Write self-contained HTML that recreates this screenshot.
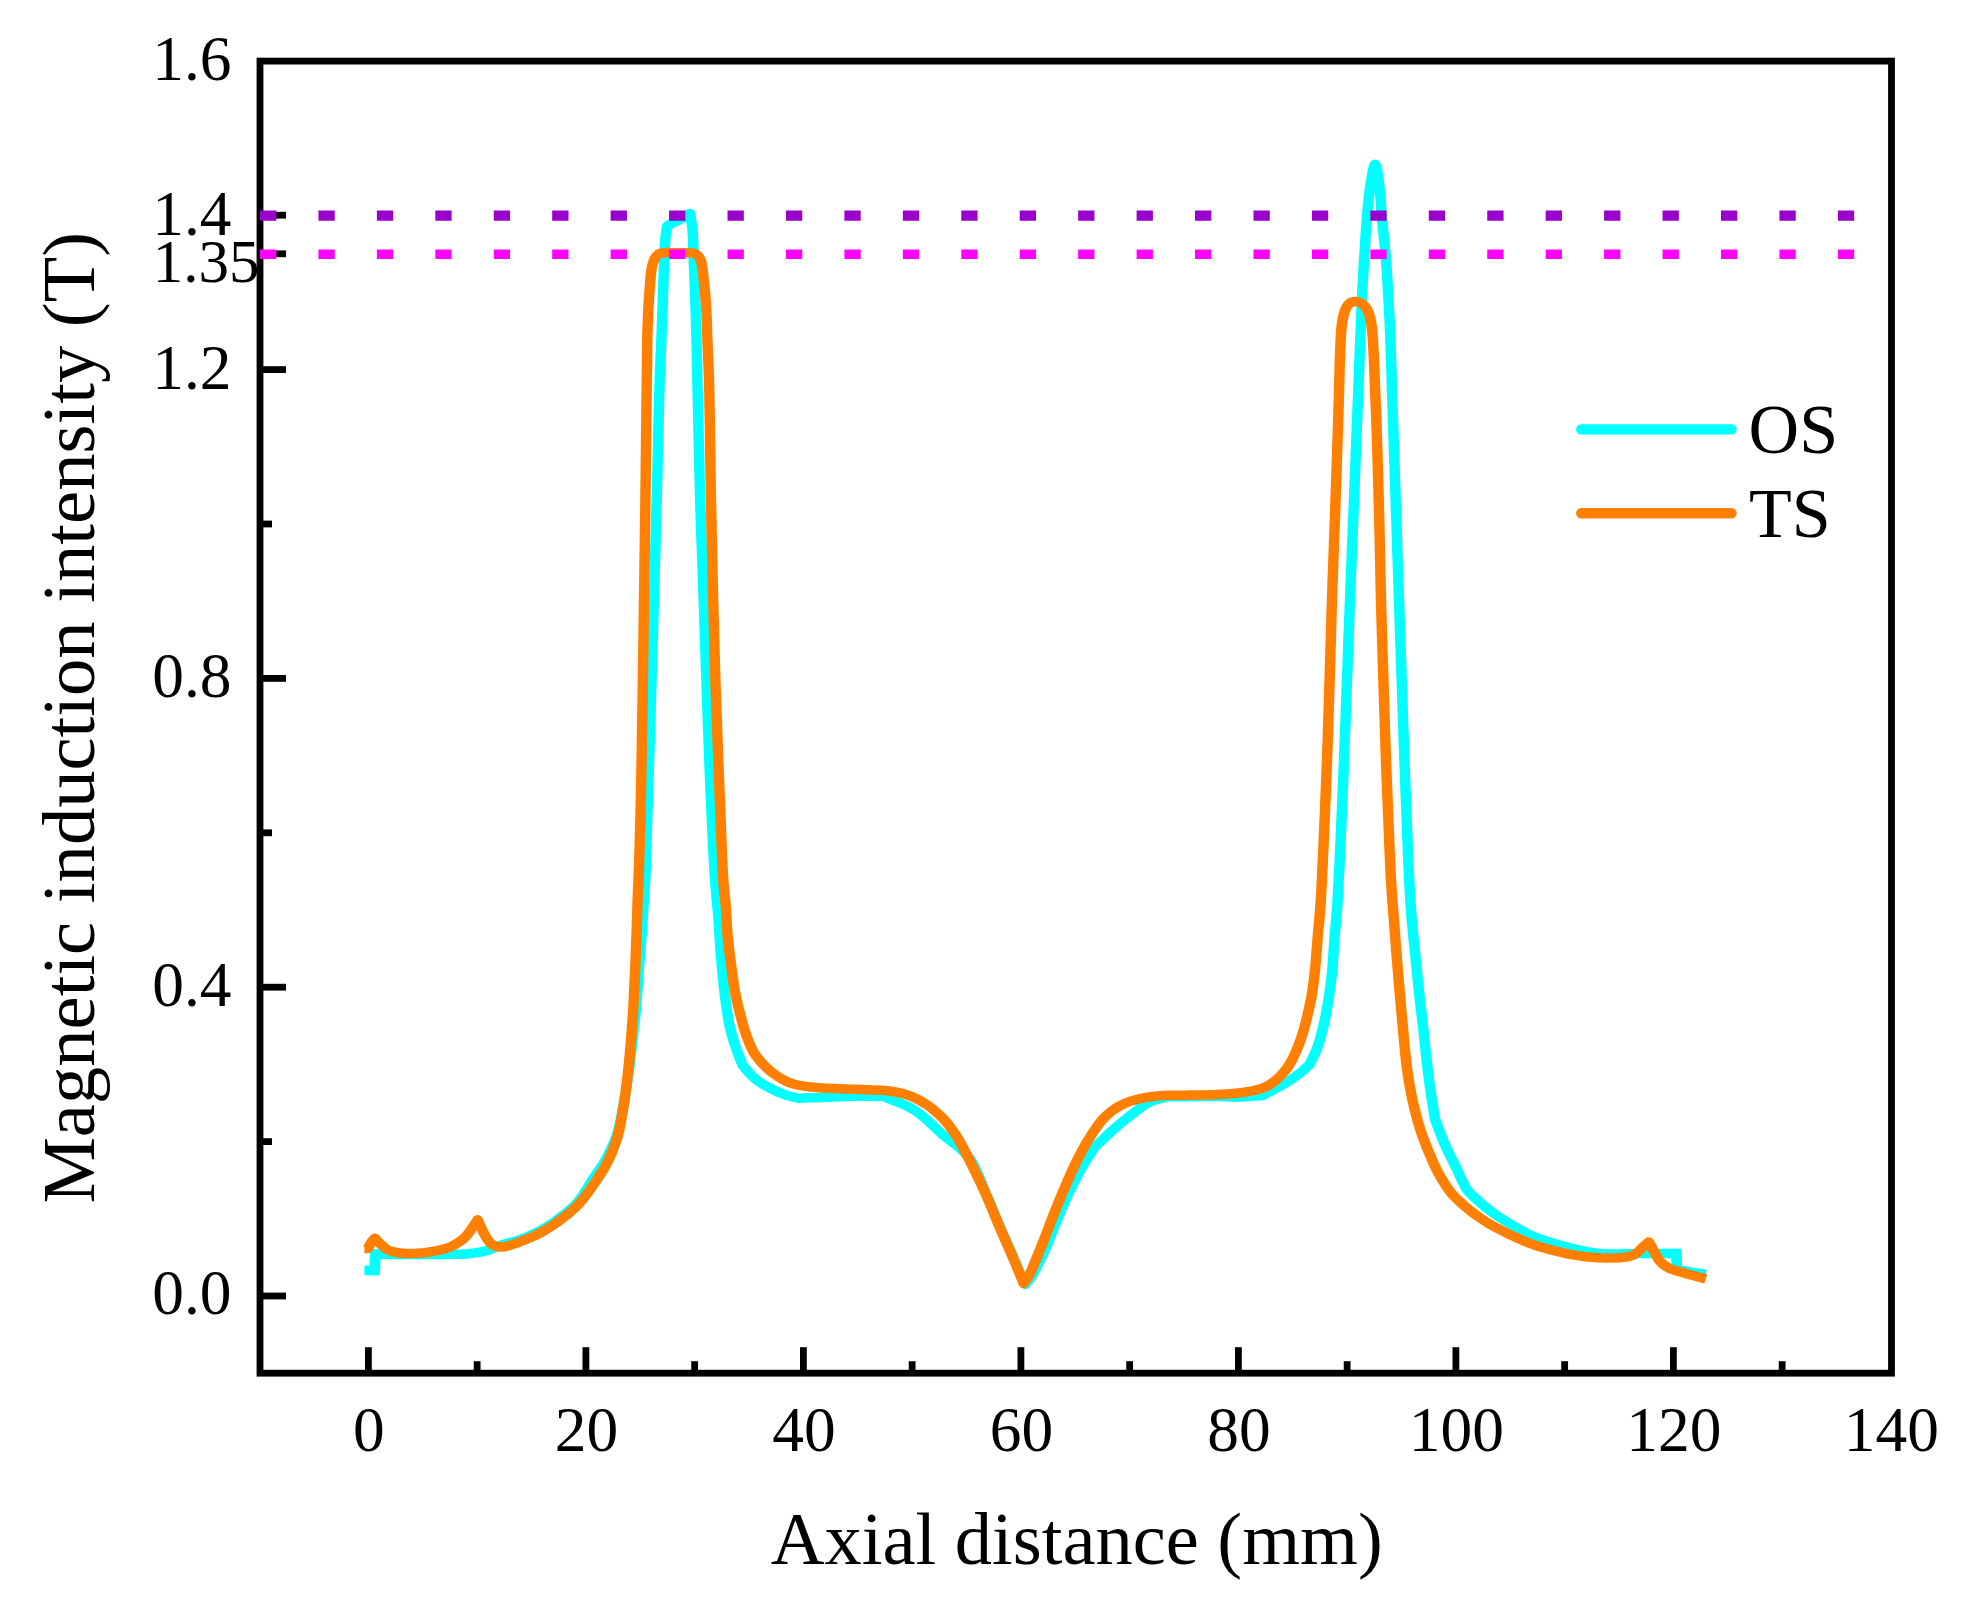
<!DOCTYPE html>
<html lang="en"><head><meta charset="utf-8"><title>Magnetic induction intensity vs axial distance</title>
<style>html,body{margin:0;padding:0;background:#fff}svg{display:block}text{font-family:"Liberation Serif","Times New Roman",serif;fill:#000}</style></head><body>
<svg width="1968" height="1600" viewBox="0 0 1968 1600">
<rect width="1968" height="1600" fill="#fff"/>
<g stroke="#000" stroke-width="6.8" fill="none" stroke-linecap="butt">
<rect x="260.00" y="61.10" width="1631.50" height="1312.10"/>
<line x1="368.40" y1="1373.20" x2="368.40" y2="1347.20"/>
<line x1="477.15" y1="1373.20" x2="477.15" y2="1361.20"/>
<line x1="585.90" y1="1373.20" x2="585.90" y2="1347.20"/>
<line x1="694.65" y1="1373.20" x2="694.65" y2="1361.20"/>
<line x1="803.40" y1="1373.20" x2="803.40" y2="1347.20"/>
<line x1="912.15" y1="1373.20" x2="912.15" y2="1361.20"/>
<line x1="1020.90" y1="1373.20" x2="1020.90" y2="1347.20"/>
<line x1="1129.65" y1="1373.20" x2="1129.65" y2="1361.20"/>
<line x1="1238.40" y1="1373.20" x2="1238.40" y2="1347.20"/>
<line x1="1347.15" y1="1373.20" x2="1347.15" y2="1361.20"/>
<line x1="1455.90" y1="1373.20" x2="1455.90" y2="1347.20"/>
<line x1="1564.65" y1="1373.20" x2="1564.65" y2="1361.20"/>
<line x1="1673.40" y1="1373.20" x2="1673.40" y2="1347.20"/>
<line x1="1782.15" y1="1373.20" x2="1782.15" y2="1361.20"/>
<line x1="260.00" y1="1296.00" x2="286.00" y2="1296.00"/>
<line x1="260.00" y1="1141.60" x2="272.00" y2="1141.60"/>
<line x1="260.00" y1="987.20" x2="286.00" y2="987.20"/>
<line x1="260.00" y1="832.80" x2="272.00" y2="832.80"/>
<line x1="260.00" y1="678.40" x2="286.00" y2="678.40"/>
<line x1="260.00" y1="524.00" x2="272.00" y2="524.00"/>
<line x1="260.00" y1="369.60" x2="286.00" y2="369.60"/>
<line x1="260.00" y1="215.20" x2="286.00" y2="215.20"/>
<line x1="260.00" y1="253.80" x2="286.00" y2="253.80"/>
</g>
<g transform="scale(1.100 1)" fill="none" stroke-width="9.50" stroke-linejoin="round" stroke-linecap="butt">
<path d="M331.27 1270.60 L340.73 1270.60 L341.09 1254.00 L344.03 1254.09 L346.90 1254.18 L349.77 1254.28 L352.71 1254.37 L355.80 1254.44 L359.09 1254.50 L361.64 1254.53 L364.30 1254.56 L367.06 1254.58 L369.91 1254.59 L372.83 1254.60 L375.80 1254.60 L378.80 1254.60 L381.84 1254.59 L384.87 1254.57 L387.90 1254.54 L390.91 1254.50 L393.67 1254.47 L396.53 1254.45 L399.45 1254.43 L402.43 1254.41 L405.42 1254.39 L408.42 1254.35 L411.39 1254.31 L414.30 1254.25 L417.15 1254.16 L419.89 1254.05 L422.51 1253.90 L424.98 1253.72 L427.27 1253.50 L430.83 1253.06 L434.05 1252.56 L437.04 1251.98 L439.90 1251.30 L442.73 1250.50 L445.74 1249.41 L448.54 1248.15 L451.39 1246.82 L454.55 1245.50 L457.23 1244.55 L460.14 1243.61 L463.19 1242.66 L466.32 1241.69 L469.44 1240.69 L472.48 1239.63 L475.36 1238.50 L478.28 1237.23 L481.11 1235.92 L483.87 1234.56 L486.59 1233.13 L489.29 1231.61 L492.00 1230.00 L494.42 1228.48 L496.83 1226.90 L499.22 1225.24 L501.60 1223.53 L503.96 1221.75 L506.31 1219.90 L508.64 1218.00 L510.78 1216.20 L512.94 1214.37 L515.10 1212.49 L517.23 1210.55 L519.33 1208.55 L521.38 1206.46 L523.37 1204.28 L525.27 1202.00 L526.99 1199.69 L528.65 1197.23 L530.24 1194.66 L531.79 1192.01 L533.30 1189.32 L534.77 1186.63 L536.22 1183.99 L537.66 1181.43 L539.09 1179.00 L540.95 1176.01 L542.79 1173.12 L544.59 1170.31 L546.34 1167.54 L548.00 1164.78 L549.55 1162.00 L551.09 1158.97 L552.53 1155.96 L553.87 1152.97 L555.14 1149.98 L556.36 1147.00 L557.47 1144.27 L558.51 1141.64 L559.50 1138.97 L560.44 1136.14 L561.36 1133.00 L562.05 1130.33 L562.71 1127.46 L563.36 1124.42 L563.98 1121.26 L564.58 1118.01 L565.16 1114.72 L565.73 1111.43 L566.28 1108.17 L566.82 1105.00 L567.34 1101.89 L567.84 1098.77 L568.31 1095.65 L568.78 1092.53 L569.23 1089.41 L569.66 1086.28 L570.09 1083.15 L570.50 1080.03 L570.91 1076.90 L571.30 1073.80 L571.67 1070.73 L572.03 1067.67 L572.38 1064.62 L572.72 1061.54 L573.05 1058.44 L573.39 1055.28 L573.74 1052.06 L574.09 1048.75 L574.41 1045.81 L574.73 1042.81 L575.06 1039.76 L575.40 1036.65 L575.73 1033.51 L576.07 1030.34 L576.40 1027.15 L576.72 1023.95 L577.04 1020.76 L577.34 1017.57 L577.63 1014.39 L577.91 1011.25 L578.16 1008.13 L578.40 1005.00 L578.63 1001.88 L578.84 998.75 L579.05 995.63 L579.25 992.50 L579.45 989.38 L579.64 986.25 L579.84 983.13 L580.03 980.00 L580.24 976.87 L580.45 973.75 L580.68 970.62 L580.90 967.50 L581.14 964.37 L581.37 961.25 L581.61 958.13 L581.84 955.00 L582.07 951.88 L582.31 948.75 L582.53 945.63 L582.76 942.50 L582.97 939.38 L583.18 936.25 L583.38 933.08 L583.58 929.85 L583.78 926.57 L583.97 923.27 L584.16 919.97 L584.34 916.70 L584.52 913.46 L584.70 910.30 L584.87 907.22 L585.04 904.26 L585.20 901.42 L585.36 898.75 L585.58 895.38 L585.78 892.42 L585.98 889.64 L586.17 886.80 L586.36 883.67 L586.55 880.00 L586.64 877.77 L586.74 875.38 L586.84 872.84 L586.93 870.17 L587.03 867.39 L587.12 864.50 L587.21 861.51 L587.30 858.45 L587.39 855.31 L587.48 852.12 L587.57 848.89 L587.66 845.63 L587.75 842.35 L587.84 839.07 L587.92 835.80 L588.01 832.54 L588.10 829.32 L588.19 826.15 L588.28 823.04 L588.36 820.00 L588.45 817.01 L588.54 814.04 L588.63 811.08 L588.71 808.14 L588.80 805.20 L588.88 802.27 L588.97 799.34 L589.05 796.41 L589.14 793.48 L589.22 790.54 L589.31 787.59 L589.39 784.62 L589.48 781.64 L589.56 778.63 L589.65 775.61 L589.74 772.55 L589.82 769.47 L589.91 766.35 L590.00 763.19 L590.09 760.00 L590.17 757.13 L590.25 754.22 L590.33 751.29 L590.42 748.33 L590.50 745.34 L590.58 742.32 L590.66 739.29 L590.75 736.23 L590.83 733.16 L590.92 730.07 L591.00 726.96 L591.08 723.85 L591.17 720.72 L591.25 717.58 L591.34 714.44 L591.42 711.29 L591.51 708.14 L591.59 704.99 L591.68 701.84 L591.77 698.70 L591.85 695.56 L591.94 692.42 L592.02 689.30 L592.10 686.19 L592.19 683.09 L592.27 680.00 L592.36 676.93 L592.44 673.87 L592.52 670.82 L592.61 667.78 L592.69 664.75 L592.77 661.72 L592.86 658.70 L592.94 655.68 L593.02 652.66 L593.11 649.64 L593.19 646.61 L593.27 643.59 L593.36 640.56 L593.44 637.52 L593.53 634.47 L593.61 631.42 L593.69 628.35 L593.78 625.27 L593.86 622.18 L593.94 619.07 L594.03 615.94 L594.11 612.80 L594.20 609.63 L594.28 606.45 L594.37 603.24 L594.45 600.00 L594.53 597.13 L594.61 594.25 L594.68 591.36 L594.76 588.46 L594.83 585.55 L594.91 582.62 L594.99 579.68 L595.07 576.74 L595.14 573.78 L595.22 570.81 L595.30 567.83 L595.37 564.84 L595.45 561.84 L595.53 558.83 L595.61 555.81 L595.68 552.78 L595.76 549.75 L595.84 546.70 L595.92 543.64 L596.00 540.58 L596.07 537.50 L596.15 534.42 L596.23 531.33 L596.31 528.23 L596.38 525.12 L596.46 522.01 L596.54 518.89 L596.62 515.76 L596.69 512.62 L596.77 509.48 L596.85 506.32 L596.92 503.17 L597.00 500.00 L597.07 497.11 L597.14 494.17 L597.21 491.17 L597.28 488.14 L597.35 485.06 L597.42 481.94 L597.48 478.79 L597.55 475.61 L597.62 472.41 L597.69 469.18 L597.76 465.93 L597.83 462.66 L597.90 459.39 L597.97 456.11 L598.04 452.82 L598.11 449.53 L598.18 446.24 L598.25 442.96 L598.32 439.69 L598.38 436.44 L598.45 433.20 L598.52 429.99 L598.59 426.80 L598.66 423.64 L598.73 420.51 L598.79 417.41 L598.86 414.36 L598.93 411.35 L599.00 408.39 L599.07 405.48 L599.13 402.63 L599.20 399.83 L599.27 397.09 L599.33 394.43 L599.40 391.83 L599.47 389.30 L599.53 386.85 L599.60 384.48 L599.66 382.20 L599.73 380.00 L599.85 376.15 L599.97 372.58 L600.08 369.26 L600.20 366.13 L600.32 363.14 L600.43 360.26 L600.55 357.43 L600.67 354.61 L600.78 351.76 L600.90 348.82 L601.02 345.75 L601.14 342.50 L601.24 339.56 L601.35 336.54 L601.45 333.47 L601.56 330.34 L601.67 327.16 L601.78 323.96 L601.89 320.74 L601.99 317.50 L602.10 314.26 L602.21 311.04 L602.32 307.84 L602.42 304.66 L602.52 301.53 L602.62 298.46 L602.72 295.44 L602.82 292.50 L602.92 289.15 L603.03 285.79 L603.12 282.44 L603.22 279.12 L603.31 275.84 L603.40 272.61 L603.49 269.44 L603.58 266.35 L603.68 263.34 L603.78 260.44 L603.89 257.66 L604.00 255.00 L604.16 251.44 L604.31 248.06 L604.47 244.87 L604.65 241.84 L604.85 238.97 L605.09 236.25 L605.54 232.60 L606.04 229.30 L606.55 226.00 L608.90 224.56 L611.36 223.10 L614.75 221.33 L618.18 219.50 L621.03 217.73 L623.64 216.00 L625.50 214.73 L627.27 213.50 L627.75 216.74 L628.25 219.93 L628.74 223.15 L629.18 226.47 L629.55 230.00 L629.76 232.84 L629.91 235.76 L630.03 238.77 L630.12 241.85 L630.19 245.02 L630.26 248.27 L630.35 251.60 L630.45 255.00 L630.56 257.86 L630.67 260.81 L630.78 263.84 L630.90 266.94 L631.01 270.09 L631.13 273.28 L631.25 276.49 L631.37 279.72 L631.49 282.95 L631.60 286.16 L631.71 289.35 L631.82 292.50 L631.92 295.61 L632.02 298.69 L632.12 301.75 L632.22 304.80 L632.32 307.85 L632.41 310.91 L632.51 313.99 L632.60 317.10 L632.69 320.25 L632.78 323.44 L632.87 326.69 L632.95 330.00 L633.03 332.89 L633.10 335.76 L633.16 338.62 L633.23 341.49 L633.29 344.37 L633.35 347.28 L633.41 350.22 L633.47 353.20 L633.53 356.25 L633.59 359.36 L633.65 362.54 L633.71 365.82 L633.78 369.19 L633.85 372.67 L633.92 376.27 L634.00 380.00 L634.05 382.39 L634.10 384.85 L634.15 387.37 L634.20 389.96 L634.26 392.60 L634.31 395.30 L634.37 398.06 L634.42 400.87 L634.48 403.72 L634.53 406.62 L634.59 409.56 L634.65 412.54 L634.71 415.56 L634.77 418.61 L634.83 421.69 L634.89 424.80 L634.95 427.94 L635.01 431.09 L635.08 434.26 L635.14 437.45 L635.21 440.65 L635.27 443.87 L635.34 447.08 L635.40 450.31 L635.47 453.53 L635.54 456.75 L635.61 459.97 L635.67 463.18 L635.74 466.37 L635.81 469.56 L635.88 472.73 L635.96 475.87 L636.03 479.00 L636.10 482.10 L636.17 485.17 L636.25 488.21 L636.32 491.22 L636.39 494.19 L636.47 497.11 L636.55 500.00 L636.63 503.17 L636.72 506.32 L636.81 509.48 L636.90 512.62 L636.99 515.76 L637.08 518.89 L637.17 522.01 L637.27 525.13 L637.37 528.23 L637.46 531.33 L637.56 534.42 L637.66 537.50 L637.76 540.58 L637.86 543.64 L637.96 546.70 L638.06 549.75 L638.16 552.78 L638.27 555.81 L638.37 558.83 L638.47 561.84 L638.57 564.84 L638.67 567.83 L638.77 570.81 L638.87 573.78 L638.97 576.74 L639.07 579.68 L639.17 582.62 L639.26 585.55 L639.36 588.46 L639.45 591.36 L639.55 594.25 L639.64 597.13 L639.73 600.00 L639.83 603.24 L639.93 606.45 L640.03 609.63 L640.12 612.80 L640.22 615.94 L640.32 619.07 L640.41 622.18 L640.50 625.27 L640.60 628.35 L640.69 631.42 L640.78 634.47 L640.87 637.52 L640.97 640.56 L641.06 643.59 L641.15 646.61 L641.24 649.64 L641.33 652.66 L641.43 655.68 L641.52 658.70 L641.61 661.72 L641.70 664.75 L641.80 667.78 L641.89 670.82 L641.99 673.87 L642.08 676.93 L642.18 680.00 L642.28 683.09 L642.38 686.19 L642.48 689.30 L642.58 692.42 L642.68 695.56 L642.78 698.70 L642.88 701.84 L642.98 704.99 L643.08 708.14 L643.18 711.29 L643.28 714.44 L643.38 717.58 L643.48 720.72 L643.58 723.85 L643.69 726.96 L643.79 730.07 L643.89 733.16 L643.99 736.23 L644.10 739.29 L644.20 742.32 L644.30 745.34 L644.41 748.33 L644.51 751.29 L644.61 754.22 L644.71 757.13 L644.82 760.00 L644.93 763.19 L645.05 766.35 L645.16 769.47 L645.28 772.55 L645.39 775.61 L645.50 778.63 L645.62 781.64 L645.73 784.62 L645.85 787.59 L645.96 790.54 L646.08 793.48 L646.19 796.42 L646.31 799.34 L646.43 802.27 L646.55 805.20 L646.67 808.14 L646.80 811.08 L646.92 814.04 L647.05 817.01 L647.18 820.00 L647.31 823.02 L647.45 826.06 L647.58 829.14 L647.71 832.23 L647.85 835.33 L647.98 838.44 L648.12 841.56 L648.26 844.68 L648.40 847.79 L648.54 850.88 L648.68 853.96 L648.83 857.02 L648.98 860.04 L649.13 863.04 L649.28 865.99 L649.44 868.90 L649.60 871.76 L649.76 874.57 L649.92 877.32 L650.09 880.00 L650.32 883.43 L650.56 886.76 L650.81 890.00 L651.07 893.15 L651.33 896.25 L651.60 899.30 L651.86 902.32 L652.12 905.32 L652.38 908.33 L652.63 911.35 L652.86 914.40 L653.09 917.50 L653.30 920.62 L653.50 923.75 L653.68 926.87 L653.86 930.00 L654.03 933.13 L654.20 936.25 L654.38 939.38 L654.55 942.50 L654.74 945.63 L654.93 948.75 L655.14 951.88 L655.36 955.00 L655.60 958.13 L655.84 961.28 L656.09 964.43 L656.35 967.58 L656.61 970.73 L656.88 973.88 L657.16 977.03 L657.45 980.16 L657.75 983.27 L658.06 986.37 L658.39 989.45 L658.73 992.50 L659.09 995.67 L659.45 998.85 L659.82 1002.04 L660.19 1005.22 L660.58 1008.38 L660.99 1011.50 L661.41 1014.59 L661.86 1017.62 L662.33 1020.58 L662.83 1023.46 L663.36 1026.25 L664.11 1029.76 L664.90 1033.14 L665.74 1036.42 L666.60 1039.61 L667.50 1042.72 L668.40 1045.76 L669.32 1048.75 L670.27 1051.72 L671.25 1054.57 L672.25 1057.35 L673.26 1060.08 L674.27 1062.82 L675.27 1065.60 L677.45 1068.29 L679.58 1071.04 L681.74 1073.76 L683.98 1076.36 L686.36 1078.75 L688.91 1080.90 L691.60 1082.88 L694.38 1084.72 L697.20 1086.45 L700.00 1088.10 L702.70 1089.62 L705.45 1091.04 L708.20 1092.37 L710.94 1093.60 L713.64 1094.70 L716.65 1095.76 L719.62 1096.64 L722.58 1097.45 L725.55 1098.30 L728.29 1098.19 L730.98 1098.08 L733.65 1097.97 L736.34 1097.86 L739.06 1097.75 L741.85 1097.63 L744.73 1097.52 L747.73 1097.40 L750.34 1097.29 L753.08 1097.17 L755.92 1097.04 L758.84 1096.90 L761.80 1096.76 L764.80 1096.63 L767.79 1096.50 L770.76 1096.38 L773.67 1096.28 L776.50 1096.19 L779.22 1096.13 L781.82 1096.10 L785.17 1096.10 L788.36 1096.14 L791.43 1096.22 L794.44 1096.31 L797.42 1096.42 L800.41 1096.52 L803.45 1096.60 L806.04 1097.82 L808.65 1098.99 L811.28 1100.12 L813.91 1101.24 L816.54 1102.36 L819.15 1103.51 L821.75 1104.71 L824.31 1105.98 L826.84 1107.34 L829.31 1108.80 L831.73 1110.40 L833.97 1112.07 L836.19 1113.89 L838.38 1115.83 L840.55 1117.88 L842.68 1119.98 L844.78 1122.13 L846.85 1124.29 L848.88 1126.43 L850.88 1128.52 L852.84 1130.53 L854.76 1132.43 L856.64 1134.20 L859.06 1136.38 L861.39 1138.43 L863.64 1140.37 L865.84 1142.25 L868.03 1144.11 L870.22 1145.98 L872.45 1147.90 L874.54 1150.33 L876.64 1152.63 L878.73 1155.00 L880.80 1157.62 L882.82 1160.70 L884.01 1162.85 L885.19 1165.20 L886.34 1167.73 L887.49 1170.40 L888.62 1173.19 L889.74 1176.07 L890.85 1179.01 L891.95 1181.99 L893.06 1184.98 L894.16 1187.94 L895.26 1190.86 L896.36 1193.70 L897.49 1196.56 L898.61 1199.46 L899.73 1202.37 L900.85 1205.30 L901.96 1208.24 L903.06 1211.18 L904.17 1214.11 L905.27 1217.02 L906.36 1219.92 L907.46 1222.78 L908.55 1225.61 L909.64 1228.40 L910.85 1231.46 L912.07 1234.51 L913.30 1237.55 L914.53 1240.57 L915.75 1243.55 L916.95 1246.49 L918.13 1249.39 L919.28 1252.23 L920.39 1255.00 L921.45 1257.70 L922.67 1260.86 L923.87 1264.03 L925.03 1267.15 L926.15 1270.15 L927.21 1272.97 L928.19 1275.54 L929.09 1277.80 L930.62 1281.33 L932.00 1284.40 L933.96 1281.82 L935.92 1279.25 L938.00 1276.00 L939.19 1273.83 L940.45 1271.35 L941.77 1268.62 L943.13 1265.68 L944.51 1262.59 L945.90 1259.40 L947.28 1256.17 L948.63 1252.94 L949.94 1249.76 L951.18 1246.70 L952.27 1243.95 L953.31 1241.18 L954.33 1238.40 L955.32 1235.59 L956.30 1232.79 L957.27 1229.97 L958.24 1227.16 L959.22 1224.35 L960.21 1221.55 L961.23 1218.77 L962.27 1216.00 L963.44 1212.98 L964.63 1209.94 L965.82 1206.90 L967.04 1203.87 L968.26 1200.85 L969.49 1197.85 L970.72 1194.89 L971.96 1191.97 L973.21 1189.10 L974.45 1186.30 L975.87 1183.20 L977.30 1180.13 L978.74 1177.11 L980.18 1174.14 L981.63 1171.24 L983.07 1168.41 L984.50 1165.66 L985.91 1163.00 L987.49 1160.13 L989.05 1157.41 L990.61 1154.79 L992.16 1152.21 L993.72 1149.63 L995.27 1147.00 L997.37 1144.81 L999.47 1142.61 L1001.56 1140.39 L1003.66 1138.18 L1005.75 1135.99 L1007.86 1133.82 L1009.97 1131.68 L1012.09 1129.60 L1014.44 1127.35 L1016.80 1125.13 L1019.17 1122.95 L1021.54 1120.81 L1023.93 1118.70 L1026.32 1116.63 L1028.73 1114.60 L1031.06 1112.61 L1033.39 1110.59 L1035.72 1108.59 L1038.07 1106.66 L1040.46 1104.85 L1042.88 1103.21 L1045.36 1101.80 L1048.17 1100.56 L1051.05 1099.60 L1053.98 1098.83 L1056.94 1098.15 L1059.89 1097.47 L1062.82 1096.70 L1065.76 1096.69 L1068.78 1096.68 L1071.86 1096.66 L1074.99 1096.65 L1078.14 1096.63 L1081.30 1096.61 L1084.45 1096.59 L1087.56 1096.58 L1090.63 1096.56 L1093.62 1096.55 L1096.53 1096.55 L1099.33 1096.54 L1102.01 1096.55 L1104.54 1096.56 L1106.91 1096.57 L1109.09 1096.60 L1112.52 1096.69 L1115.42 1096.82 L1118.10 1096.96 L1120.82 1097.05 L1123.86 1097.05 L1126.57 1096.97 L1129.43 1096.84 L1132.40 1096.66 L1135.44 1096.45 L1138.53 1096.21 L1141.63 1095.98 L1144.71 1095.75 L1147.73 1095.55 L1150.32 1094.03 L1152.95 1092.51 L1155.60 1091.00 L1158.25 1089.48 L1160.85 1087.96 L1163.40 1086.44 L1165.85 1084.92 L1168.18 1083.40 L1170.69 1081.68 L1173.11 1079.96 L1175.44 1078.24 L1177.67 1076.52 L1179.80 1074.80 L1181.82 1073.10 L1184.13 1070.99 L1186.25 1068.89 L1188.29 1066.80 L1190.36 1064.70 L1191.75 1061.56 L1193.17 1058.48 L1194.57 1055.37 L1195.92 1052.15 L1197.18 1048.75 L1198.15 1045.78 L1199.07 1042.68 L1199.95 1039.48 L1200.79 1036.20 L1201.59 1032.89 L1202.36 1029.56 L1203.09 1026.25 L1203.72 1023.28 L1204.31 1020.29 L1204.87 1017.29 L1205.40 1014.27 L1205.92 1011.22 L1206.41 1008.15 L1206.89 1005.04 L1207.36 1001.90 L1207.80 998.89 L1208.23 995.87 L1208.64 992.83 L1209.04 989.76 L1209.43 986.66 L1209.80 983.52 L1210.15 980.32 L1210.49 977.07 L1210.82 973.75 L1211.08 970.80 L1211.33 967.75 L1211.56 964.63 L1211.78 961.46 L1211.99 958.24 L1212.19 955.01 L1212.38 951.77 L1212.57 948.55 L1212.77 945.37 L1212.96 942.25 L1213.16 939.20 L1213.36 936.25 L1213.61 932.94 L1213.86 929.72 L1214.12 926.57 L1214.37 923.46 L1214.63 920.39 L1214.87 917.33 L1215.11 914.28 L1215.33 911.21 L1215.55 908.10 L1215.74 905.04 L1215.91 902.06 L1216.08 899.12 L1216.23 896.19 L1216.38 893.21 L1216.52 890.15 L1216.67 886.95 L1216.83 883.59 L1217.00 880.00 L1217.12 877.51 L1217.24 874.91 L1217.36 872.22 L1217.48 869.44 L1217.61 866.58 L1217.74 863.65 L1217.86 860.66 L1218.00 857.62 L1218.13 854.53 L1218.26 851.41 L1218.39 848.25 L1218.52 845.08 L1218.65 841.90 L1218.79 838.71 L1218.92 835.53 L1219.05 832.36 L1219.17 829.22 L1219.30 826.10 L1219.42 823.03 L1219.55 820.00 L1219.67 817.01 L1219.78 814.04 L1219.90 811.08 L1220.02 808.14 L1220.13 805.20 L1220.24 802.27 L1220.36 799.34 L1220.47 796.41 L1220.58 793.48 L1220.69 790.54 L1220.80 787.59 L1220.92 784.62 L1221.03 781.64 L1221.14 778.63 L1221.25 775.61 L1221.36 772.55 L1221.48 769.47 L1221.59 766.35 L1221.70 763.19 L1221.82 760.00 L1221.92 757.13 L1222.02 754.22 L1222.13 751.29 L1222.23 748.33 L1222.34 745.34 L1222.44 742.32 L1222.54 739.29 L1222.65 736.23 L1222.75 733.16 L1222.86 730.07 L1222.96 726.96 L1223.07 723.85 L1223.17 720.72 L1223.28 717.58 L1223.39 714.44 L1223.49 711.29 L1223.60 708.14 L1223.70 704.99 L1223.81 701.84 L1223.91 698.70 L1224.02 695.56 L1224.12 692.42 L1224.23 689.30 L1224.34 686.19 L1224.44 683.09 L1224.55 680.00 L1224.65 676.93 L1224.75 673.86 L1224.86 670.80 L1224.96 667.74 L1225.06 664.69 L1225.17 661.63 L1225.27 658.59 L1225.37 655.54 L1225.48 652.49 L1225.58 649.44 L1225.68 646.40 L1225.78 643.35 L1225.89 640.29 L1225.99 637.24 L1226.09 634.18 L1226.20 631.11 L1226.30 628.04 L1226.41 624.96 L1226.51 621.88 L1226.62 618.78 L1226.73 615.68 L1226.83 612.57 L1226.94 609.44 L1227.05 606.31 L1227.16 603.16 L1227.27 600.00 L1227.38 597.08 L1227.48 594.15 L1227.58 591.21 L1227.69 588.27 L1227.80 585.31 L1227.90 582.34 L1228.01 579.36 L1228.12 576.38 L1228.23 573.39 L1228.34 570.39 L1228.45 567.39 L1228.56 564.38 L1228.67 561.37 L1228.78 558.35 L1228.89 555.33 L1229.00 552.31 L1229.11 549.28 L1229.22 546.25 L1229.34 543.23 L1229.45 540.20 L1229.56 537.17 L1229.67 534.14 L1229.78 531.11 L1229.89 528.08 L1230.00 525.06 L1230.11 522.04 L1230.22 519.02 L1230.33 516.01 L1230.44 513.00 L1230.55 510.00 L1230.65 507.00 L1230.76 504.00 L1230.87 501.00 L1230.97 498.00 L1231.08 495.00 L1231.19 492.00 L1231.29 489.00 L1231.40 486.00 L1231.50 483.00 L1231.61 480.00 L1231.71 477.00 L1231.82 474.00 L1231.93 471.00 L1232.03 468.00 L1232.14 465.00 L1232.24 462.00 L1232.35 459.00 L1232.45 456.00 L1232.56 453.00 L1232.66 450.00 L1232.77 447.00 L1232.87 444.00 L1232.98 441.00 L1233.09 438.00 L1233.19 435.00 L1233.30 432.00 L1233.41 429.00 L1233.51 426.00 L1233.62 423.00 L1233.73 420.00 L1233.84 416.98 L1233.95 413.92 L1234.06 410.83 L1234.17 407.70 L1234.28 404.55 L1234.40 401.38 L1234.51 398.19 L1234.63 394.99 L1234.74 391.78 L1234.86 388.56 L1234.98 385.35 L1235.09 382.14 L1235.21 378.94 L1235.33 375.75 L1235.44 372.58 L1235.56 369.43 L1235.67 366.30 L1235.78 363.21 L1235.89 360.15 L1236.00 357.13 L1236.11 354.15 L1236.22 351.22 L1236.33 348.34 L1236.43 345.52 L1236.53 342.76 L1236.63 340.06 L1236.73 337.43 L1236.82 334.87 L1236.91 332.40 L1237.00 330.00 L1237.14 326.31 L1237.26 322.81 L1237.38 319.49 L1237.49 316.30 L1237.60 313.23 L1237.71 310.24 L1237.81 307.31 L1237.92 304.40 L1238.03 301.50 L1238.15 298.56 L1238.27 295.57 L1238.41 292.50 L1238.55 289.37 L1238.70 286.25 L1238.85 283.12 L1239.01 280.00 L1239.17 276.87 L1239.33 273.75 L1239.50 270.62 L1239.67 267.50 L1239.84 264.37 L1240.01 261.25 L1240.19 258.12 L1240.36 255.00 L1240.54 251.85 L1240.72 248.66 L1240.90 245.45 L1241.08 242.22 L1241.26 238.99 L1241.45 235.77 L1241.63 232.58 L1241.83 229.44 L1242.02 226.34 L1242.22 223.31 L1242.43 220.36 L1242.64 217.50 L1242.90 214.09 L1243.16 210.76 L1243.44 207.51 L1243.71 204.34 L1244.00 201.25 L1244.29 198.25 L1244.59 195.33 L1244.91 192.50 L1245.34 188.93 L1245.80 185.48 L1246.26 182.18 L1246.73 179.09 L1247.18 176.25 L1247.94 171.74 L1248.73 168.00 L1249.35 165.53 L1250.00 164.20 L1250.65 165.53 L1251.27 168.00 L1252.08 171.74 L1252.82 176.25 L1253.20 179.09 L1253.56 182.18 L1253.90 185.48 L1254.23 188.94 L1254.55 192.50 L1254.78 195.33 L1254.99 198.25 L1255.19 201.26 L1255.38 204.35 L1255.58 207.52 L1255.79 210.77 L1256.02 214.10 L1256.27 217.50 L1256.51 220.36 L1256.77 223.31 L1257.04 226.34 L1257.33 229.44 L1257.63 232.59 L1257.94 235.78 L1258.24 238.99 L1258.54 242.22 L1258.84 245.44 L1259.12 248.66 L1259.39 251.85 L1259.64 255.00 L1259.87 258.12 L1260.08 261.25 L1260.29 264.37 L1260.49 267.50 L1260.69 270.62 L1260.87 273.75 L1261.06 276.87 L1261.23 280.00 L1261.40 283.12 L1261.57 286.25 L1261.74 289.37 L1261.91 292.50 L1262.07 295.57 L1262.23 298.56 L1262.38 301.49 L1262.52 304.40 L1262.67 307.30 L1262.81 310.24 L1262.94 313.23 L1263.08 316.30 L1263.22 319.49 L1263.35 322.81 L1263.49 326.31 L1263.64 330.00 L1263.73 332.40 L1263.82 334.87 L1263.91 337.43 L1264.00 340.06 L1264.09 342.75 L1264.18 345.52 L1264.27 348.34 L1264.36 351.22 L1264.45 354.15 L1264.54 357.13 L1264.63 360.15 L1264.72 363.21 L1264.81 366.30 L1264.90 369.42 L1265.00 372.58 L1265.09 375.75 L1265.18 378.94 L1265.27 382.14 L1265.36 385.35 L1265.45 388.56 L1265.54 391.78 L1265.63 394.99 L1265.73 398.19 L1265.82 401.38 L1265.91 404.55 L1266.00 407.70 L1266.09 410.83 L1266.18 413.92 L1266.27 416.98 L1266.36 420.00 L1266.45 423.00 L1266.55 426.00 L1266.64 429.00 L1266.73 432.00 L1266.82 435.00 L1266.91 438.00 L1267.00 441.00 L1267.09 444.00 L1267.18 447.00 L1267.27 450.00 L1267.36 453.00 L1267.45 456.00 L1267.55 459.00 L1267.64 462.00 L1267.73 465.00 L1267.82 468.00 L1267.91 471.00 L1268.00 474.00 L1268.09 477.00 L1268.18 480.00 L1268.27 483.00 L1268.36 486.00 L1268.45 489.00 L1268.55 492.00 L1268.64 495.00 L1268.73 498.00 L1268.82 501.00 L1268.91 504.00 L1269.00 507.00 L1269.09 510.00 L1269.18 513.00 L1269.27 516.01 L1269.36 519.02 L1269.46 522.04 L1269.55 525.06 L1269.64 528.08 L1269.73 531.11 L1269.82 534.14 L1269.91 537.17 L1270.00 540.20 L1270.10 543.23 L1270.19 546.25 L1270.28 549.28 L1270.37 552.31 L1270.46 555.33 L1270.55 558.35 L1270.65 561.37 L1270.74 564.38 L1270.83 567.39 L1270.92 570.39 L1271.01 573.39 L1271.10 576.38 L1271.19 579.36 L1271.28 582.34 L1271.37 585.31 L1271.46 588.27 L1271.55 591.21 L1271.64 594.15 L1271.73 597.08 L1271.82 600.00 L1271.91 603.16 L1272.01 606.31 L1272.11 609.44 L1272.20 612.57 L1272.30 615.68 L1272.39 618.78 L1272.49 621.88 L1272.58 624.96 L1272.68 628.04 L1272.77 631.11 L1272.86 634.18 L1272.96 637.24 L1273.05 640.29 L1273.15 643.35 L1273.24 646.40 L1273.33 649.45 L1273.43 652.49 L1273.52 655.54 L1273.61 658.59 L1273.71 661.63 L1273.80 664.69 L1273.90 667.74 L1273.99 670.80 L1274.08 673.86 L1274.18 676.93 L1274.27 680.00 L1274.37 683.09 L1274.46 686.19 L1274.56 689.30 L1274.65 692.42 L1274.75 695.56 L1274.84 698.70 L1274.93 701.84 L1275.03 704.99 L1275.12 708.14 L1275.22 711.29 L1275.31 714.44 L1275.41 717.58 L1275.50 720.72 L1275.60 723.85 L1275.69 726.96 L1275.79 730.07 L1275.88 733.16 L1275.98 736.23 L1276.07 739.29 L1276.16 742.32 L1276.26 745.34 L1276.35 748.33 L1276.45 751.29 L1276.54 754.22 L1276.63 757.13 L1276.73 760.00 L1276.83 763.19 L1276.94 766.35 L1277.04 769.47 L1277.14 772.55 L1277.25 775.61 L1277.35 778.63 L1277.45 781.64 L1277.56 784.62 L1277.66 787.59 L1277.76 790.54 L1277.87 793.48 L1277.97 796.41 L1278.07 799.34 L1278.18 802.27 L1278.28 805.20 L1278.39 808.14 L1278.50 811.08 L1278.60 814.04 L1278.71 817.01 L1278.82 820.00 L1278.93 823.02 L1279.04 826.06 L1279.14 829.13 L1279.25 832.23 L1279.36 835.33 L1279.47 838.44 L1279.58 841.56 L1279.69 844.68 L1279.80 847.78 L1279.91 850.88 L1280.02 853.96 L1280.13 857.01 L1280.25 860.04 L1280.36 863.03 L1280.48 865.99 L1280.60 868.90 L1280.72 871.76 L1280.84 874.57 L1280.96 877.32 L1281.09 880.00 L1281.26 883.43 L1281.42 886.76 L1281.58 889.99 L1281.75 893.15 L1281.92 896.25 L1282.09 899.30 L1282.26 902.32 L1282.45 905.33 L1282.64 908.33 L1282.84 911.35 L1283.05 914.40 L1283.27 917.50 L1283.51 920.63 L1283.76 923.75 L1284.03 926.88 L1284.30 930.00 L1284.59 933.13 L1284.88 936.25 L1285.17 939.38 L1285.46 942.50 L1285.76 945.63 L1286.06 948.75 L1286.35 951.88 L1286.64 955.00 L1286.92 958.13 L1287.20 961.25 L1287.48 964.38 L1287.76 967.50 L1288.05 970.63 L1288.33 973.75 L1288.61 976.88 L1288.90 980.00 L1289.19 983.13 L1289.49 986.25 L1289.79 989.38 L1290.09 992.50 L1290.40 995.63 L1290.72 998.75 L1291.04 1001.88 L1291.37 1005.00 L1291.70 1008.13 L1292.03 1011.25 L1292.36 1014.38 L1292.69 1017.50 L1293.02 1020.62 L1293.35 1023.75 L1293.68 1026.87 L1294.00 1030.00 L1294.32 1033.14 L1294.63 1036.31 L1294.94 1039.50 L1295.25 1042.70 L1295.55 1045.90 L1295.86 1049.09 L1296.17 1052.26 L1296.48 1055.40 L1296.78 1058.51 L1297.10 1061.57 L1297.41 1064.57 L1297.73 1067.50 L1298.10 1070.82 L1298.47 1074.07 L1298.84 1077.27 L1299.21 1080.41 L1299.59 1083.52 L1299.97 1086.58 L1300.35 1089.61 L1300.74 1092.62 L1301.14 1095.60 L1301.61 1099.06 L1302.09 1102.45 L1302.58 1105.78 L1303.07 1109.09 L1303.56 1112.38 L1304.06 1115.68 L1304.55 1119.00 L1305.60 1122.07 L1306.64 1125.15 L1307.67 1128.23 L1308.70 1131.31 L1309.75 1134.38 L1310.82 1137.44 L1311.93 1140.48 L1313.09 1143.50 L1314.30 1146.49 L1315.55 1149.45 L1316.84 1152.40 L1318.15 1155.33 L1319.48 1158.26 L1320.81 1161.17 L1322.14 1164.09 L1323.45 1167.00 L1324.75 1169.97 L1326.04 1173.07 L1327.33 1176.21 L1328.63 1179.31 L1329.93 1182.31 L1331.23 1185.13 L1332.52 1187.68 L1333.82 1189.90 L1336.03 1192.84 L1338.24 1195.17 L1340.45 1197.50 L1342.75 1199.67 L1345.01 1201.85 L1347.27 1204.03 L1349.57 1206.20 L1351.95 1208.36 L1354.45 1210.50 L1356.68 1212.30 L1358.98 1214.12 L1361.35 1215.93 L1363.78 1217.72 L1366.24 1219.50 L1368.73 1221.24 L1371.23 1222.95 L1373.73 1224.60 L1376.23 1226.22 L1378.76 1227.82 L1381.30 1229.39 L1383.87 1230.93 L1386.46 1232.42 L1389.07 1233.85 L1391.70 1235.21 L1394.36 1236.50 L1397.06 1237.71 L1399.80 1238.84 L1402.56 1239.90 L1405.35 1240.90 L1408.14 1241.87 L1410.95 1242.79 L1413.75 1243.70 L1416.55 1244.60 L1419.32 1245.48 L1422.13 1246.35 L1424.95 1247.20 L1427.77 1248.01 L1430.57 1248.79 L1433.34 1249.52 L1436.06 1250.19 L1438.73 1250.80 L1441.70 1251.44 L1444.52 1252.01 L1447.28 1252.50 L1450.11 1252.93 L1453.10 1253.30 L1456.36 1253.60 L1458.84 1253.76 L1461.46 1253.86 L1464.20 1253.92 L1467.04 1253.94 L1469.97 1253.92 L1472.95 1253.88 L1475.98 1253.83 L1479.01 1253.77 L1482.05 1253.71 L1485.06 1253.65 L1488.02 1253.61 L1490.91 1253.60 L1493.70 1253.60 L1496.48 1253.60 L1499.25 1253.60 L1502.02 1253.60 L1504.78 1253.60 L1507.54 1253.60 L1510.30 1253.60 L1513.06 1253.60 L1515.81 1253.60 L1518.57 1253.60 L1521.33 1253.60 L1524.09 1253.60 L1524.45 1269.60 L1527.41 1270.14 L1530.34 1270.68 L1533.31 1271.23 L1536.36 1271.80 L1539.15 1272.33 L1542.01 1272.89 L1544.92 1273.46 L1547.83 1274.03 L1550.73 1274.60" stroke="#00ffff"/>
<path d="M332.73 1270.60 L340.73 1270.60 L341.09 1254.00 L349.09 1254.40" stroke="#00ffff" stroke-linejoin="miter"/>
<path d="M1516.36 1253.60 L1524.09 1253.60 L1524.45 1269.60 L1531.82 1270.90" stroke="#00ffff" stroke-linejoin="miter"/>
<path d="M331.27 1248.60 L334.55 1248.60 L336.10 1245.16 L337.73 1242.00 L339.21 1240.01 L340.73 1238.20 L343.02 1240.84 L345.45 1243.50 L347.58 1245.72 L349.88 1247.96 L352.36 1249.80 L355.06 1251.03 L357.95 1251.86 L360.91 1252.50 L364.07 1253.02 L367.31 1253.34 L370.64 1253.50 L373.39 1253.51 L376.20 1253.41 L379.03 1253.23 L381.82 1253.00 L385.25 1252.67 L388.63 1252.24 L392.27 1251.60 L394.86 1251.09 L397.65 1250.52 L400.54 1249.87 L403.44 1249.10 L406.26 1248.19 L408.91 1247.10 L411.82 1245.60 L414.68 1243.86 L417.41 1241.96 L419.93 1239.95 L422.18 1237.90 L424.72 1234.98 L426.83 1231.91 L428.82 1228.80 L430.68 1225.82 L432.43 1222.81 L434.18 1219.80 L435.41 1222.75 L436.63 1225.76 L437.85 1228.74 L439.11 1231.61 L440.45 1234.30 L441.97 1237.15 L443.52 1239.91 L445.19 1242.37 L447.09 1244.30 L449.69 1245.83 L452.55 1246.73 L455.45 1247.10 L458.43 1246.84 L461.45 1246.01 L464.55 1245.00 L467.15 1244.12 L469.78 1243.11 L472.49 1241.97 L475.36 1240.70 L477.95 1239.54 L480.69 1238.28 L483.51 1236.94 L486.38 1235.51 L489.23 1234.00 L492.00 1232.40 L494.42 1230.90 L496.83 1229.32 L499.22 1227.68 L501.60 1225.97 L503.96 1224.20 L506.31 1222.38 L508.64 1220.50 L511.07 1218.50 L513.50 1216.46 L515.92 1214.37 L518.31 1212.20 L520.67 1209.93 L523.00 1207.53 L525.27 1205.00 L527.04 1202.87 L528.80 1200.62 L530.55 1198.25 L532.28 1195.81 L533.98 1193.31 L535.65 1190.79 L537.27 1188.27 L538.85 1185.78 L540.36 1183.35 L541.82 1181.00 L543.53 1178.19 L545.17 1175.42 L546.74 1172.67 L548.24 1169.95 L549.67 1167.27 L551.01 1164.62 L552.27 1162.00 L553.66 1158.92 L554.92 1155.90 L556.07 1152.92 L557.15 1149.97 L558.18 1147.00 L559.32 1143.60 L560.35 1140.31 L561.32 1136.85 L562.27 1133.00 L562.86 1130.32 L563.43 1127.45 L563.99 1124.41 L564.54 1121.24 L565.08 1118.00 L565.59 1114.71 L566.10 1111.42 L566.58 1108.17 L567.05 1105.00 L567.49 1101.89 L567.91 1098.77 L568.31 1095.65 L568.70 1092.53 L569.07 1089.40 L569.43 1086.28 L569.78 1083.15 L570.12 1080.03 L570.45 1076.90 L570.78 1073.80 L571.08 1070.73 L571.38 1067.67 L571.66 1064.62 L571.94 1061.54 L572.21 1058.44 L572.47 1055.28 L572.74 1052.06 L573.00 1048.75 L573.23 1045.81 L573.46 1042.81 L573.68 1039.76 L573.91 1036.65 L574.13 1033.51 L574.35 1030.34 L574.56 1027.15 L574.77 1023.95 L574.98 1020.75 L575.17 1017.56 L575.36 1014.39 L575.55 1011.25 L575.72 1008.13 L575.88 1005.00 L576.04 1001.88 L576.20 998.75 L576.34 995.63 L576.48 992.50 L576.62 989.38 L576.75 986.25 L576.89 983.13 L577.02 980.00 L577.14 976.88 L577.27 973.75 L577.40 970.63 L577.52 967.50 L577.65 964.38 L577.76 961.25 L577.88 958.13 L577.99 955.00 L578.11 951.88 L578.22 948.75 L578.32 945.63 L578.43 942.50 L578.53 939.38 L578.64 936.25 L578.74 933.08 L578.83 929.85 L578.93 926.57 L579.02 923.27 L579.11 919.97 L579.20 916.70 L579.29 913.46 L579.38 910.30 L579.47 907.22 L579.55 904.26 L579.64 901.42 L579.73 898.75 L579.85 895.38 L579.97 892.42 L580.08 889.64 L580.20 886.80 L580.32 883.66 L580.45 880.00 L580.53 877.77 L580.61 875.37 L580.69 872.84 L580.78 870.17 L580.86 867.39 L580.95 864.50 L581.04 861.51 L581.14 858.44 L581.23 855.31 L581.32 852.12 L581.42 848.89 L581.51 845.63 L581.60 842.35 L581.69 839.07 L581.78 835.80 L581.87 832.54 L581.95 829.33 L582.03 826.15 L582.11 823.04 L582.18 820.00 L582.25 817.01 L582.32 814.04 L582.38 811.08 L582.44 808.14 L582.50 805.20 L582.56 802.27 L582.61 799.34 L582.67 796.41 L582.72 793.48 L582.77 790.54 L582.82 787.59 L582.87 784.62 L582.92 781.64 L582.97 778.63 L583.02 775.61 L583.07 772.55 L583.12 769.47 L583.17 766.35 L583.22 763.19 L583.27 760.00 L583.32 757.13 L583.37 754.22 L583.41 751.29 L583.46 748.33 L583.51 745.34 L583.55 742.32 L583.60 739.29 L583.65 736.23 L583.70 733.16 L583.74 730.07 L583.79 726.96 L583.83 723.85 L583.88 720.72 L583.93 717.58 L583.97 714.44 L584.02 711.29 L584.06 708.14 L584.11 704.99 L584.15 701.84 L584.20 698.70 L584.24 695.56 L584.28 692.42 L584.33 689.30 L584.37 686.19 L584.41 683.09 L584.45 680.00 L584.50 676.93 L584.54 673.87 L584.58 670.82 L584.62 667.78 L584.66 664.75 L584.70 661.72 L584.73 658.70 L584.77 655.68 L584.81 652.66 L584.85 649.64 L584.88 646.61 L584.92 643.59 L584.96 640.56 L584.99 637.52 L585.03 634.47 L585.07 631.42 L585.11 628.35 L585.14 625.27 L585.18 622.18 L585.22 619.07 L585.26 615.94 L585.30 612.80 L585.33 609.63 L585.37 606.45 L585.41 603.24 L585.45 600.00 L585.49 597.13 L585.53 594.25 L585.56 591.36 L585.60 588.46 L585.64 585.55 L585.68 582.62 L585.72 579.68 L585.75 576.74 L585.79 573.78 L585.83 570.81 L585.87 567.83 L585.91 564.84 L585.95 561.84 L585.99 558.83 L586.03 555.81 L586.07 552.78 L586.11 549.75 L586.15 546.70 L586.19 543.64 L586.23 540.58 L586.27 537.50 L586.30 534.42 L586.34 531.33 L586.38 528.23 L586.42 525.12 L586.46 522.01 L586.50 518.89 L586.54 515.76 L586.58 512.62 L586.61 509.48 L586.65 506.32 L586.69 503.17 L586.73 500.00 L586.76 497.11 L586.79 494.19 L586.83 491.22 L586.86 488.21 L586.89 485.17 L586.93 482.10 L586.96 479.00 L587.00 475.87 L587.03 472.72 L587.06 469.56 L587.10 466.37 L587.13 463.17 L587.16 459.97 L587.20 456.75 L587.23 453.53 L587.26 450.31 L587.30 447.08 L587.33 443.86 L587.36 440.65 L587.39 437.45 L587.43 434.26 L587.46 431.09 L587.49 427.93 L587.52 424.80 L587.55 421.69 L587.59 418.61 L587.62 415.56 L587.65 412.54 L587.68 409.56 L587.71 406.62 L587.74 403.72 L587.77 400.87 L587.80 398.06 L587.83 395.30 L587.86 392.60 L587.89 389.96 L587.92 387.37 L587.94 384.85 L587.97 382.39 L588.00 380.00 L588.04 376.27 L588.08 372.67 L588.11 369.19 L588.14 365.82 L588.16 362.54 L588.19 359.36 L588.21 356.25 L588.24 353.20 L588.27 350.22 L588.30 347.28 L588.33 344.37 L588.38 341.49 L588.43 338.62 L588.49 335.76 L588.56 332.89 L588.64 330.00 L588.74 326.66 L588.85 323.35 L588.96 320.07 L589.09 316.82 L589.22 313.60 L589.36 310.43 L589.51 307.31 L589.66 304.23 L589.82 301.21 L590.00 298.25 L590.18 295.34 L590.36 292.50 L590.60 289.04 L590.83 285.58 L591.07 282.16 L591.32 278.84 L591.59 275.67 L591.90 272.69 L592.24 269.95 L592.64 267.50 L593.63 262.77 L595.00 259.00 L596.73 256.13 L598.86 254.00 L601.04 253.12 L603.64 252.75 L606.21 252.58 L609.21 252.60 L612.37 252.69 L615.45 252.75 L618.54 252.71 L621.71 252.65 L624.71 252.63 L627.27 252.75 L629.74 252.98 L631.82 253.60 L633.80 255.05 L635.45 257.00 L636.62 259.19 L637.50 262.00 L637.99 264.30 L638.41 267.04 L638.78 270.09 L639.12 273.35 L639.44 276.69 L639.77 280.00 L640.07 282.89 L640.35 285.84 L640.63 288.85 L640.89 291.92 L641.14 295.07 L641.38 298.29 L641.61 301.60 L641.82 305.00 L641.98 307.86 L642.12 310.81 L642.25 313.84 L642.37 316.94 L642.48 320.08 L642.58 323.27 L642.68 326.49 L642.77 329.72 L642.87 332.95 L642.97 336.16 L643.07 339.35 L643.18 342.50 L643.30 345.56 L643.41 348.50 L643.53 351.38 L643.65 354.21 L643.76 357.05 L643.88 359.92 L643.99 362.87 L644.11 365.93 L644.22 369.13 L644.33 372.52 L644.44 376.13 L644.55 380.00 L644.60 382.20 L644.65 384.48 L644.71 386.85 L644.76 389.30 L644.81 391.83 L644.86 394.42 L644.91 397.09 L644.95 399.83 L645.00 402.63 L645.05 405.48 L645.09 408.39 L645.14 411.35 L645.18 414.36 L645.23 417.41 L645.27 420.51 L645.31 423.64 L645.35 426.80 L645.40 429.99 L645.44 433.20 L645.48 436.44 L645.52 439.69 L645.56 442.96 L645.60 446.24 L645.65 449.53 L645.69 452.82 L645.73 456.11 L645.77 459.39 L645.81 462.66 L645.86 465.93 L645.90 469.18 L645.94 472.41 L645.99 475.61 L646.03 478.79 L646.08 481.94 L646.12 485.06 L646.17 488.14 L646.22 491.17 L646.26 494.17 L646.31 497.11 L646.36 500.00 L646.42 503.17 L646.48 506.32 L646.53 509.48 L646.59 512.62 L646.65 515.76 L646.70 518.89 L646.76 522.01 L646.82 525.12 L646.88 528.23 L646.94 531.33 L647.00 534.42 L647.06 537.50 L647.12 540.58 L647.18 543.64 L647.24 546.70 L647.30 549.75 L647.36 552.78 L647.42 555.81 L647.48 558.83 L647.54 561.84 L647.60 564.84 L647.67 567.83 L647.73 570.81 L647.79 573.78 L647.85 576.74 L647.92 579.68 L647.98 582.62 L648.04 585.55 L648.11 588.46 L648.17 591.36 L648.24 594.25 L648.30 597.13 L648.36 600.00 L648.44 603.24 L648.51 606.45 L648.58 609.63 L648.65 612.80 L648.73 615.94 L648.80 619.07 L648.87 622.18 L648.94 625.27 L649.02 628.35 L649.09 631.42 L649.16 634.47 L649.24 637.52 L649.31 640.56 L649.39 643.59 L649.46 646.62 L649.54 649.64 L649.62 652.66 L649.69 655.68 L649.77 658.70 L649.85 661.72 L649.94 664.75 L650.02 667.78 L650.10 670.82 L650.19 673.87 L650.28 676.93 L650.36 680.00 L650.45 683.09 L650.55 686.19 L650.64 689.30 L650.74 692.42 L650.83 695.56 L650.93 698.70 L651.03 701.84 L651.14 704.99 L651.24 708.14 L651.34 711.29 L651.45 714.44 L651.55 717.58 L651.66 720.72 L651.76 723.85 L651.87 726.96 L651.97 730.07 L652.08 733.16 L652.19 736.23 L652.29 739.29 L652.39 742.32 L652.50 745.34 L652.60 748.33 L652.70 751.29 L652.80 754.22 L652.90 757.13 L653.00 760.00 L653.11 763.19 L653.21 766.35 L653.32 769.47 L653.42 772.55 L653.53 775.61 L653.63 778.63 L653.73 781.64 L653.83 784.62 L653.93 787.59 L654.03 790.54 L654.14 793.48 L654.24 796.41 L654.34 799.34 L654.44 802.27 L654.55 805.20 L654.65 808.14 L654.76 811.08 L654.87 814.04 L654.98 817.01 L655.09 820.00 L655.20 823.03 L655.32 826.10 L655.43 829.22 L655.54 832.36 L655.65 835.53 L655.76 838.71 L655.88 841.90 L655.99 845.08 L656.11 848.26 L656.22 851.41 L656.34 854.54 L656.46 857.62 L656.58 860.67 L656.71 863.66 L656.84 866.59 L656.97 869.44 L657.11 872.22 L657.25 874.91 L657.40 877.51 L657.55 880.00 L657.79 883.59 L658.05 886.96 L658.32 890.15 L658.60 893.21 L658.88 896.19 L659.16 899.12 L659.43 902.06 L659.68 905.03 L659.91 908.10 L660.11 911.23 L660.29 914.35 L660.44 917.48 L660.59 920.61 L660.74 923.74 L660.89 926.87 L661.06 930.00 L661.26 933.13 L661.50 936.25 L661.77 939.38 L662.07 942.51 L662.38 945.64 L662.71 948.77 L663.06 951.90 L663.42 955.03 L663.79 958.15 L664.17 961.28 L664.55 964.40 L664.92 967.54 L665.30 970.71 L665.69 973.90 L666.08 977.08 L666.49 980.24 L666.92 983.38 L667.36 986.48 L667.82 989.52 L668.32 992.50 L668.92 995.87 L669.56 999.16 L670.23 1002.39 L670.91 1005.58 L671.62 1008.73 L672.35 1011.87 L673.09 1015.00 L673.81 1018.02 L674.53 1021.04 L675.27 1024.03 L676.03 1027.00 L676.82 1029.93 L677.66 1032.80 L678.55 1035.60 L679.55 1038.58 L680.57 1041.51 L681.64 1044.39 L682.79 1047.19 L684.02 1049.89 L685.36 1052.50 L687.06 1055.36 L688.90 1058.10 L690.85 1060.73 L692.86 1063.23 L694.91 1065.60 L697.31 1068.18 L699.78 1070.58 L702.35 1072.84 L705.09 1075.00 L707.58 1076.82 L710.17 1078.59 L712.87 1080.26 L715.72 1081.78 L718.73 1083.10 L721.37 1084.01 L724.14 1084.77 L727.01 1085.41 L729.98 1085.95 L733.01 1086.42 L736.09 1086.85 L739.18 1087.25 L741.92 1087.56 L744.76 1087.82 L747.68 1088.02 L750.63 1088.18 L753.59 1088.31 L756.51 1088.42 L759.38 1088.52 L762.14 1088.63 L764.77 1088.75 L767.78 1088.90 L770.59 1089.02 L773.31 1089.13 L776.03 1089.24 L778.83 1089.36 L781.82 1089.50 L784.43 1089.61 L787.22 1089.72 L790.13 1089.82 L793.10 1089.93 L796.06 1090.05 L798.97 1090.19 L801.75 1090.36 L804.36 1090.56 L806.73 1090.80 L809.93 1091.22 L812.79 1091.69 L815.48 1092.24 L818.18 1092.90 L821.69 1093.92 L825.11 1095.09 L828.36 1096.40 L831.12 1097.68 L833.74 1099.07 L836.36 1100.60 L839.19 1102.36 L842.03 1104.30 L845.00 1106.60 L847.11 1108.39 L849.34 1110.38 L851.64 1112.53 L853.93 1114.80 L856.16 1117.17 L858.27 1119.60 L860.07 1121.84 L861.80 1124.16 L863.48 1126.56 L865.13 1129.03 L866.74 1131.58 L868.33 1134.20 L869.91 1136.90 L871.27 1139.32 L872.59 1141.79 L873.89 1144.33 L875.16 1146.93 L876.43 1149.58 L877.70 1152.28 L878.98 1155.04 L880.27 1157.84 L881.59 1160.70 L882.77 1163.25 L883.96 1165.86 L885.16 1168.52 L886.38 1171.23 L887.60 1173.98 L888.82 1176.77 L890.04 1179.57 L891.26 1182.40 L892.47 1185.23 L893.66 1188.06 L894.84 1190.89 L896.00 1193.70 L897.16 1196.56 L898.30 1199.45 L899.43 1202.36 L900.55 1205.29 L901.66 1208.22 L902.76 1211.16 L903.86 1214.09 L904.95 1217.01 L906.03 1219.91 L907.12 1222.78 L908.19 1225.61 L909.27 1228.40 L910.47 1231.46 L911.68 1234.51 L912.89 1237.55 L914.09 1240.57 L915.29 1243.55 L916.47 1246.49 L917.63 1249.39 L918.76 1252.23 L919.85 1255.00 L920.91 1257.70 L922.14 1260.87 L923.37 1264.07 L924.57 1267.22 L925.72 1270.25 L926.78 1273.07 L927.73 1275.61 L928.55 1277.80 L929.63 1280.81 L930.55 1283.40 L932.66 1280.30 L934.91 1276.50 L935.91 1274.40 L936.99 1271.95 L938.13 1269.20 L939.31 1266.21 L940.53 1263.05 L941.76 1259.78 L943.00 1256.44 L944.22 1253.11 L945.43 1249.85 L946.59 1246.70 L947.67 1243.78 L948.73 1240.82 L949.78 1237.83 L950.83 1234.83 L951.88 1231.81 L952.92 1228.79 L953.96 1225.76 L955.01 1222.75 L956.06 1219.74 L957.11 1216.76 L958.18 1213.80 L959.23 1210.93 L960.28 1208.05 L961.34 1205.19 L962.39 1202.32 L963.45 1199.47 L964.52 1196.63 L965.59 1193.81 L966.66 1191.00 L967.74 1188.21 L968.82 1185.44 L969.91 1182.70 L971.05 1179.85 L972.19 1177.01 L973.33 1174.19 L974.47 1171.38 L975.63 1168.60 L976.79 1165.84 L977.96 1163.12 L979.14 1160.43 L980.33 1157.79 L981.55 1155.20 L982.95 1152.29 L984.36 1149.42 L985.79 1146.59 L987.24 1143.82 L988.70 1141.09 L990.17 1138.43 L991.67 1135.83 L993.18 1133.30 L995.00 1130.32 L996.80 1127.40 L998.62 1124.57 L1000.51 1121.85 L1002.50 1119.25 L1004.64 1116.80 L1006.90 1114.50 L1009.29 1112.30 L1011.78 1110.22 L1014.35 1108.29 L1016.97 1106.51 L1019.64 1104.90 L1022.27 1103.52 L1024.96 1102.32 L1027.71 1101.27 L1030.51 1100.33 L1033.37 1099.49 L1036.27 1098.70 L1038.98 1098.04 L1041.73 1097.47 L1044.53 1096.98 L1047.37 1096.56 L1050.26 1096.20 L1053.20 1095.88 L1056.18 1095.60 L1058.82 1095.41 L1061.52 1095.28 L1064.27 1095.21 L1067.05 1095.17 L1069.86 1095.16 L1072.68 1095.16 L1075.51 1095.16 L1078.33 1095.14 L1081.14 1095.10 L1083.97 1095.05 L1086.82 1095.01 L1089.67 1094.98 L1092.53 1094.94 L1095.39 1094.90 L1098.25 1094.84 L1101.11 1094.76 L1103.97 1094.65 L1106.82 1094.50 L1109.69 1094.32 L1112.61 1094.14 L1115.54 1093.93 L1118.47 1093.71 L1121.39 1093.45 L1124.25 1093.16 L1127.05 1092.82 L1129.76 1092.44 L1132.36 1092.00 L1135.47 1091.42 L1138.48 1090.81 L1141.39 1090.14 L1144.19 1089.37 L1146.88 1088.45 L1149.45 1087.35 L1152.08 1085.96 L1154.56 1084.39 L1156.91 1082.67 L1159.17 1080.78 L1161.36 1078.75 L1163.60 1076.44 L1165.76 1073.93 L1167.81 1071.27 L1169.76 1068.49 L1171.59 1065.60 L1173.07 1062.99 L1174.45 1060.27 L1175.74 1057.46 L1176.96 1054.59 L1178.14 1051.68 L1179.27 1048.75 L1180.40 1045.71 L1181.46 1042.62 L1182.48 1039.48 L1183.44 1036.32 L1184.35 1033.16 L1185.23 1030.00 L1186.04 1026.89 L1186.79 1023.77 L1187.49 1020.65 L1188.16 1017.52 L1188.81 1014.38 L1189.45 1011.25 L1190.09 1008.15 L1190.70 1005.07 L1191.30 1002.00 L1191.86 998.89 L1192.40 995.73 L1192.91 992.50 L1193.34 989.44 L1193.74 986.36 L1194.11 983.25 L1194.46 980.08 L1194.79 976.83 L1195.12 973.47 L1195.45 970.00 L1195.71 967.18 L1195.96 964.24 L1196.20 961.21 L1196.43 958.10 L1196.66 954.95 L1196.89 951.77 L1197.11 948.59 L1197.33 945.42 L1197.55 942.29 L1197.78 939.23 L1198.00 936.25 L1198.26 933.01 L1198.52 929.82 L1198.78 926.68 L1199.04 923.56 L1199.29 920.47 L1199.54 917.39 L1199.78 914.31 L1200.01 911.21 L1200.23 908.10 L1200.42 905.04 L1200.61 902.06 L1200.78 899.12 L1200.94 896.19 L1201.09 893.21 L1201.24 890.15 L1201.40 886.95 L1201.56 883.59 L1201.73 880.00 L1201.84 877.51 L1201.96 874.91 L1202.08 872.22 L1202.20 869.44 L1202.33 866.58 L1202.45 863.65 L1202.57 860.66 L1202.70 857.62 L1202.83 854.53 L1202.95 851.41 L1203.08 848.25 L1203.20 845.08 L1203.33 841.90 L1203.46 838.71 L1203.58 835.53 L1203.70 832.36 L1203.83 829.22 L1203.95 826.10 L1204.06 823.03 L1204.18 820.00 L1204.30 817.01 L1204.41 814.04 L1204.53 811.08 L1204.64 808.14 L1204.75 805.20 L1204.86 802.27 L1204.97 799.34 L1205.08 796.41 L1205.19 793.48 L1205.30 790.54 L1205.41 787.59 L1205.51 784.62 L1205.62 781.64 L1205.73 778.63 L1205.83 775.61 L1205.94 772.55 L1206.05 769.47 L1206.15 766.35 L1206.26 763.19 L1206.36 760.00 L1206.46 757.13 L1206.55 754.22 L1206.64 751.29 L1206.74 748.33 L1206.83 745.34 L1206.92 742.32 L1207.02 739.29 L1207.11 736.23 L1207.20 733.16 L1207.29 730.07 L1207.38 726.96 L1207.48 723.85 L1207.57 720.72 L1207.66 717.58 L1207.75 714.44 L1207.84 711.29 L1207.93 708.14 L1208.02 704.99 L1208.11 701.84 L1208.20 698.70 L1208.29 695.56 L1208.38 692.42 L1208.46 689.30 L1208.55 686.19 L1208.64 683.09 L1208.73 680.00 L1208.81 676.93 L1208.90 673.86 L1208.98 670.80 L1209.07 667.74 L1209.15 664.69 L1209.23 661.63 L1209.31 658.59 L1209.39 655.54 L1209.47 652.49 L1209.55 649.45 L1209.64 646.40 L1209.72 643.35 L1209.80 640.29 L1209.88 637.24 L1209.96 634.18 L1210.04 631.11 L1210.12 628.04 L1210.20 624.96 L1210.29 621.88 L1210.37 618.78 L1210.46 615.68 L1210.55 612.57 L1210.63 609.44 L1210.72 606.31 L1210.82 603.16 L1210.91 600.00 L1211.00 597.08 L1211.09 594.15 L1211.18 591.21 L1211.27 588.26 L1211.36 585.31 L1211.45 582.34 L1211.55 579.36 L1211.65 576.38 L1211.74 573.39 L1211.84 570.39 L1211.94 567.39 L1212.04 564.38 L1212.14 561.37 L1212.24 558.35 L1212.34 555.33 L1212.44 552.31 L1212.54 549.28 L1212.64 546.25 L1212.74 543.23 L1212.84 540.20 L1212.94 537.17 L1213.04 534.14 L1213.14 531.11 L1213.24 528.08 L1213.34 525.06 L1213.43 522.04 L1213.53 519.02 L1213.63 516.01 L1213.72 513.00 L1213.82 510.00 L1213.91 507.00 L1214.01 504.00 L1214.10 501.00 L1214.19 498.00 L1214.28 495.00 L1214.37 492.00 L1214.47 489.00 L1214.56 486.00 L1214.65 483.00 L1214.74 480.00 L1214.83 477.00 L1214.92 474.00 L1215.01 471.00 L1215.10 468.00 L1215.19 465.00 L1215.28 462.00 L1215.37 459.00 L1215.46 456.00 L1215.55 453.00 L1215.64 450.00 L1215.73 447.00 L1215.82 444.00 L1215.91 441.00 L1216.00 438.00 L1216.09 435.00 L1216.18 432.00 L1216.27 429.00 L1216.36 426.00 L1216.45 423.00 L1216.55 420.00 L1216.64 416.96 L1216.73 413.83 L1216.81 410.63 L1216.90 407.37 L1216.98 404.05 L1217.07 400.68 L1217.15 397.28 L1217.23 393.85 L1217.31 390.40 L1217.39 386.95 L1217.48 383.49 L1217.56 380.05 L1217.64 376.62 L1217.72 373.22 L1217.81 369.85 L1217.89 366.53 L1217.98 363.27 L1218.07 360.07 L1218.16 356.94 L1218.25 353.90 L1218.35 350.94 L1218.45 348.09 L1218.55 345.35 L1218.65 342.73 L1218.76 340.23 L1218.87 337.87 L1218.99 335.66 L1219.11 333.61 L1219.23 331.72 L1219.36 330.00 L1219.71 326.03 L1220.06 322.93 L1220.47 320.24 L1221.00 317.50 L1221.77 313.92 L1222.69 310.48 L1223.86 307.50 L1225.67 304.58 L1227.82 302.50 L1230.01 301.65 L1232.36 301.50 L1234.97 301.95 L1237.50 303.10 L1239.94 305.23 L1242.05 308.10 L1243.41 310.90 L1244.52 314.11 L1245.45 317.50 L1246.08 320.24 L1246.56 322.98 L1246.96 326.10 L1247.36 330.00 L1247.54 331.91 L1247.71 334.03 L1247.87 336.33 L1248.03 338.81 L1248.18 341.45 L1248.33 344.24 L1248.48 347.16 L1248.62 350.19 L1248.76 353.33 L1248.90 356.56 L1249.03 359.86 L1249.16 363.22 L1249.28 366.63 L1249.41 370.06 L1249.53 373.52 L1249.65 376.97 L1249.77 380.41 L1249.88 383.83 L1250.00 387.20 L1250.11 390.52 L1250.23 393.77 L1250.34 396.94 L1250.45 400.00 L1250.57 403.07 L1250.68 406.14 L1250.79 409.21 L1250.90 412.26 L1251.00 415.32 L1251.10 418.36 L1251.20 421.41 L1251.30 424.45 L1251.40 427.49 L1251.49 430.52 L1251.59 433.56 L1251.68 436.59 L1251.77 439.63 L1251.86 442.66 L1251.95 445.69 L1252.03 448.73 L1252.12 451.77 L1252.21 454.81 L1252.29 457.85 L1252.38 460.90 L1252.46 463.95 L1252.55 467.00 L1252.63 470.08 L1252.71 473.17 L1252.80 476.26 L1252.88 479.35 L1252.96 482.45 L1253.03 485.55 L1253.11 488.65 L1253.19 491.75 L1253.27 494.86 L1253.34 497.96 L1253.41 501.06 L1253.49 504.17 L1253.56 507.27 L1253.63 510.36 L1253.70 513.46 L1253.77 516.55 L1253.84 519.64 L1253.91 522.72 L1253.98 525.80 L1254.05 528.87 L1254.11 531.94 L1254.18 535.00 L1254.25 538.12 L1254.31 541.22 L1254.37 544.30 L1254.43 547.37 L1254.49 550.43 L1254.55 553.48 L1254.61 556.53 L1254.66 559.57 L1254.72 562.61 L1254.77 565.65 L1254.82 568.69 L1254.88 571.75 L1254.94 574.81 L1254.99 577.89 L1255.05 580.98 L1255.11 584.09 L1255.18 587.22 L1255.24 590.37 L1255.31 593.55 L1255.38 596.76 L1255.45 600.00 L1255.52 602.93 L1255.60 605.88 L1255.67 608.86 L1255.74 611.85 L1255.82 614.86 L1255.90 617.90 L1255.98 620.94 L1256.06 624.00 L1256.14 627.08 L1256.23 630.17 L1256.31 633.26 L1256.40 636.37 L1256.48 639.48 L1256.57 642.60 L1256.66 645.73 L1256.75 648.85 L1256.84 651.98 L1256.93 655.11 L1257.01 658.24 L1257.10 661.37 L1257.19 664.49 L1257.28 667.61 L1257.37 670.72 L1257.46 673.82 L1257.55 676.92 L1257.64 680.00 L1257.72 683.09 L1257.81 686.19 L1257.90 689.30 L1257.99 692.42 L1258.08 695.56 L1258.17 698.70 L1258.26 701.84 L1258.34 704.99 L1258.43 708.14 L1258.52 711.29 L1258.61 714.44 L1258.71 717.58 L1258.80 720.72 L1258.89 723.85 L1258.98 726.96 L1259.07 730.07 L1259.16 733.16 L1259.25 736.23 L1259.35 739.29 L1259.44 742.32 L1259.53 745.34 L1259.63 748.33 L1259.72 751.29 L1259.81 754.22 L1259.91 757.13 L1260.00 760.00 L1260.11 763.19 L1260.21 766.35 L1260.32 769.47 L1260.43 772.55 L1260.53 775.61 L1260.64 778.63 L1260.75 781.64 L1260.86 784.62 L1260.96 787.59 L1261.07 790.54 L1261.18 793.48 L1261.29 796.41 L1261.40 799.34 L1261.51 802.27 L1261.62 805.20 L1261.73 808.14 L1261.84 811.08 L1261.96 814.04 L1262.07 817.01 L1262.18 820.00 L1262.29 823.02 L1262.41 826.06 L1262.52 829.13 L1262.63 832.23 L1262.74 835.33 L1262.85 838.44 L1262.96 841.56 L1263.07 844.68 L1263.18 847.78 L1263.30 850.88 L1263.41 853.96 L1263.53 857.01 L1263.65 860.04 L1263.77 863.03 L1263.89 865.99 L1264.01 868.90 L1264.14 871.76 L1264.27 874.57 L1264.41 877.32 L1264.55 880.00 L1264.73 883.43 L1264.93 886.76 L1265.13 889.99 L1265.33 893.15 L1265.54 896.25 L1265.76 899.30 L1265.97 902.32 L1266.18 905.33 L1266.40 908.33 L1266.62 911.35 L1266.83 914.40 L1267.05 917.50 L1267.26 920.63 L1267.47 923.75 L1267.68 926.88 L1267.89 930.00 L1268.10 933.13 L1268.32 936.25 L1268.53 939.38 L1268.75 942.50 L1268.97 945.63 L1269.19 948.75 L1269.41 951.88 L1269.64 955.00 L1269.86 958.13 L1270.10 961.25 L1270.33 964.38 L1270.56 967.50 L1270.80 970.63 L1271.04 973.75 L1271.28 976.88 L1271.52 980.00 L1271.76 983.13 L1272.01 986.25 L1272.25 989.38 L1272.50 992.50 L1272.75 995.63 L1272.99 998.75 L1273.24 1001.88 L1273.49 1005.00 L1273.74 1008.13 L1273.99 1011.25 L1274.24 1014.38 L1274.49 1017.50 L1274.75 1020.63 L1275.01 1023.75 L1275.28 1026.88 L1275.55 1030.00 L1275.81 1033.14 L1276.08 1036.32 L1276.34 1039.51 L1276.61 1042.71 L1276.88 1045.91 L1277.15 1049.10 L1277.43 1052.27 L1277.72 1055.41 L1278.02 1058.52 L1278.33 1061.57 L1278.66 1064.57 L1279.00 1067.50 L1279.41 1070.81 L1279.84 1074.05 L1280.27 1077.22 L1280.72 1080.34 L1281.19 1083.41 L1281.68 1086.47 L1282.19 1089.51 L1282.72 1092.55 L1283.27 1095.60 L1283.84 1098.61 L1284.44 1101.64 L1285.06 1104.67 L1285.70 1107.69 L1286.36 1110.69 L1287.03 1113.63 L1287.71 1116.51 L1288.40 1119.30 L1289.09 1122.00 L1289.96 1125.24 L1290.85 1128.34 L1291.75 1131.34 L1292.67 1134.27 L1293.60 1137.15 L1294.55 1140.00 L1295.60 1143.10 L1296.66 1146.11 L1297.75 1149.07 L1298.86 1152.02 L1300.00 1155.00 L1301.21 1158.13 L1302.46 1161.30 L1303.73 1164.46 L1305.03 1167.55 L1306.36 1170.50 L1307.90 1173.66 L1309.48 1176.70 L1311.10 1179.63 L1312.73 1182.50 L1314.21 1185.11 L1315.67 1187.62 L1317.25 1190.12 L1319.09 1192.70 L1320.93 1194.99 L1322.96 1197.35 L1325.15 1199.73 L1327.46 1202.12 L1329.84 1204.49 L1332.27 1206.80 L1334.31 1208.67 L1336.43 1210.54 L1338.60 1212.40 L1340.82 1214.24 L1343.09 1216.05 L1345.38 1217.82 L1347.69 1219.54 L1350.00 1221.20 L1352.32 1222.79 L1354.67 1224.33 L1357.03 1225.81 L1359.43 1227.25 L1361.85 1228.67 L1364.29 1230.06 L1366.77 1231.43 L1369.27 1232.80 L1371.94 1234.24 L1374.63 1235.67 L1377.36 1237.08 L1380.12 1238.47 L1382.91 1239.83 L1385.73 1241.14 L1388.58 1242.40 L1391.45 1243.60 L1394.16 1244.66 L1396.91 1245.68 L1399.71 1246.66 L1402.53 1247.60 L1405.37 1248.50 L1408.20 1249.36 L1411.01 1250.18 L1413.80 1250.96 L1416.55 1251.70 L1419.38 1252.43 L1422.20 1253.12 L1425.01 1253.76 L1427.80 1254.36 L1430.56 1254.92 L1433.31 1255.43 L1436.03 1255.89 L1438.73 1256.30 L1441.53 1256.68 L1444.28 1257.01 L1447.01 1257.29 L1449.72 1257.52 L1452.42 1257.70 L1455.15 1257.82 L1457.91 1257.90 L1460.85 1257.94 L1463.92 1257.96 L1467.02 1257.92 L1470.08 1257.82 L1473.01 1257.65 L1475.74 1257.38 L1478.18 1257.00 L1481.43 1256.28 L1484.24 1255.35 L1486.82 1254.00 L1489.17 1252.00 L1491.29 1249.60 L1493.36 1247.30 L1496.16 1244.65 L1498.91 1242.10 L1500.57 1245.30 L1502.23 1248.50 L1503.91 1251.70 L1505.52 1255.01 L1507.15 1258.31 L1509.09 1261.30 L1511.44 1263.83 L1514.10 1266.05 L1517.09 1268.00 L1519.43 1269.17 L1521.96 1270.15 L1524.64 1271.03 L1527.45 1271.88 L1530.36 1272.80 L1533.04 1273.66 L1535.86 1274.53 L1538.78 1275.40 L1541.77 1276.27 L1544.78 1277.15 L1547.78 1278.03 L1550.73 1278.90" stroke="#ff8000"/>
</g>
<line x1="260.00" y1="215.60" x2="1856.00" y2="215.60" stroke="#9900cc" stroke-width="10.4" stroke-dasharray="16.30 42.14"/>
<line x1="260.00" y1="254.20" x2="1856.00" y2="254.20" stroke="#ff00ff" stroke-width="9.6" stroke-dasharray="16.30 42.14"/>
<line x1="1581.3" y1="429.4" x2="1731.5" y2="429.4" stroke="#00ffff" stroke-width="10.4" stroke-linecap="round"/>
<line x1="1581.3" y1="513.2" x2="1731.5" y2="513.2" stroke="#ff8000" stroke-width="10.4" stroke-linecap="round"/>
<text x="1748.6" y="453" font-size="70">OS</text>
<text x="1749.1" y="537" font-size="70">TS</text>
<text x="368.9" y="1451" font-size="63.4" text-anchor="middle">0</text>
<text x="586.4" y="1451" font-size="63.4" text-anchor="middle">20</text>
<text x="803.9" y="1451" font-size="63.4" text-anchor="middle">40</text>
<text x="1021.4" y="1451" font-size="63.4" text-anchor="middle">60</text>
<text x="1238.9" y="1451" font-size="63.4" text-anchor="middle">80</text>
<text x="1456.4" y="1451" font-size="63.4" text-anchor="middle">100</text>
<text x="1673.9" y="1451" font-size="63.4" text-anchor="middle">120</text>
<text x="1891.4" y="1451" font-size="63.4" text-anchor="middle">140</text>
<text x="231.5" y="1314.4" font-size="63.4" text-anchor="end">0.0</text>
<text x="231.5" y="1005.9" font-size="63.4" text-anchor="end">0.4</text>
<text x="231.5" y="697.3" font-size="63.4" text-anchor="end">0.8</text>
<text x="231.5" y="388.8" font-size="63.4" text-anchor="end">1.2</text>
<text x="231.5" y="234.6" font-size="63.4" text-anchor="end">1.4</text>
<text x="231.5" y="80.3" font-size="63.4" text-anchor="end">1.6</text>
<text x="259.6" y="282.2" font-size="61" text-anchor="end">1.35</text>
<text x="1076.8" y="1563.7" font-size="74.45" text-anchor="middle">Axial distance (mm)</text>
<text transform="translate(93.5 717.7) rotate(-90)" font-size="74.6" text-anchor="middle">Magnetic induction intensity (T)</text>
</svg></body></html>
